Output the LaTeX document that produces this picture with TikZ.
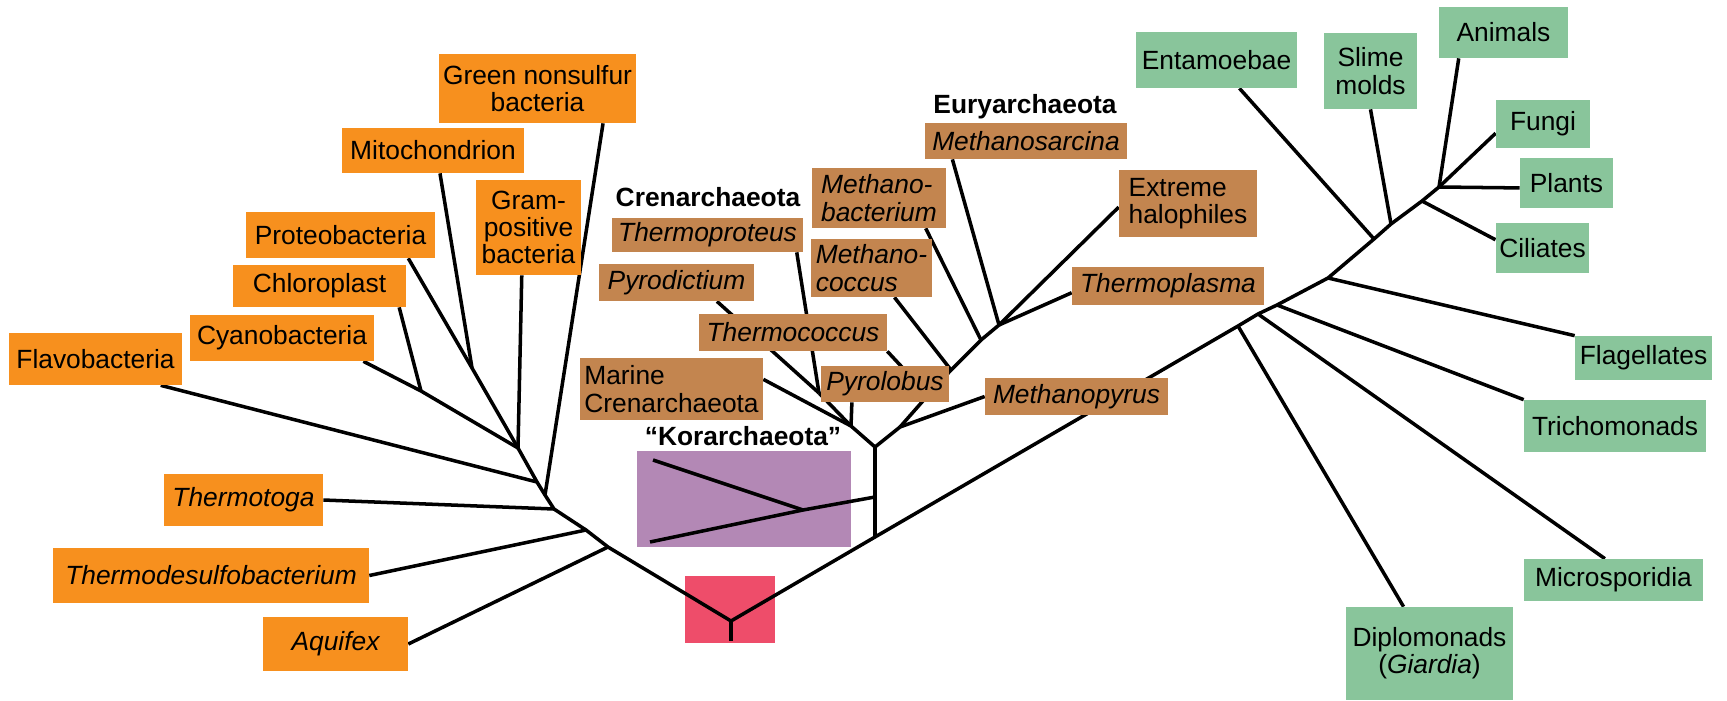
\documentclass[tikz,border=0pt]{standalone}
\usepackage{fontspec}
\setmainfont{Liberation Sans}
\usetikzlibrary{backgrounds}
\definecolor{bacorange}{HTML}{F7901E}
\definecolor{arcbrown}{HTML}{C3854F}
\definecolor{eukgreen}{HTML}{89C59B}
\definecolor{korpurple}{HTML}{B388B5}
\definecolor{rootred}{HTML}{EE4D6A}
\newcommand{\labsize}{\fontsize{15}{15.5}\selectfont}
\tikzset{
  bact/.style={fill=bacorange, inner sep=2pt, align=center, font=\labsize},
  arch/.style={fill=arcbrown, inner sep=2pt, align=center, font=\labsize},
  euka/.style={fill=eukgreen, inner sep=2pt, align=center, font=\labsize},
  itl/.style={font=\labsize\itshape},
  grp/.style={font=\labsize\bfseries, inner sep=1pt},
  br/.style={line width=2pt, line join=round},
}

\begin{document}
\begin{tikzpicture}[x=0.02cm, y=-0.02cm]
    \useasboundingbox (0,0) rectangle (1727,700);
    % bacteria
    \node[bact, minimum width=3.94cm, minimum height=1.38cm] (gns) at (537.5,88.5) {Green nonsulfur\\bacteria};
    \node[bact, minimum width=3.64cm, minimum height=0.9cm] (mito) at (433,150.5) {Mitochondrion};
    \node[bact, minimum width=2.1cm, minimum height=1.9cm] (gram) at (528.5,227.5) {Gram-\\positive\\bacteria};
    \node[bact, minimum width=3.78cm, minimum height=0.92cm] (proteo) at (340.5,235) {Proteobacteria};
    \node[bact, minimum width=3.46cm, minimum height=0.84cm] (chloro) at (319.5,286) {Chloroplast};
    \node[bact, minimum width=3.68cm, minimum height=0.92cm] (cyano) at (282,338) {Cyanobacteria};
    \node[bact, minimum width=3.46cm, minimum height=1.04cm] (flavo) at (95.5,359) {Flavobacteria};
    \node[bact, itl, minimum width=3.18cm, minimum height=1.04cm] (thtoga) at (243.5,500) {Thermotoga};
    \node[bact, itl, minimum width=6.32cm, minimum height=1.1cm] (thdesulfo) at (211,575.5) {Thermodesulfobacterium};
    \node[bact, itl, minimum width=2.9cm, minimum height=1.08cm] (aquifex) at (335.5,644) {Aquifex};
    % archaea
    \node[grp] (crenlab) at (708,197) {Crenarchaeota};
    \node[grp] (eurylab) at (1025,107) {Euryarchaeota};
    \node[grp] (korlab) at (743,436) {“Korarchaeota”};
    \node[arch, itl, minimum width=3.82cm, minimum height=0.68cm] (thproteus) at (707.5,235) {Thermoproteus};
    \node[arch, itl, minimum width=3.1cm, minimum height=0.74cm] (pyrodict) at (676.5,282.5) {Pyrodictium};
    \node[arch, itl, minimum width=3.76cm, minimum height=0.74cm] (thcoccus) at (793,332.5) {Thermococcus};
    \node[arch, align=left, minimum width=3.66cm, minimum height=1.24cm] (marine) at (671.5,389) {Marine\\Crenarchaeota};
    \node[arch, itl, minimum width=2.56cm, minimum height=0.72cm] (pyrolob) at (885,384) {Pyrolobus};
    \node[arch, itl, align=left, minimum width=2.68cm, minimum height=1.2cm] (mbact) at (879,198) {Methano-\\bacterium};
    \node[arch, itl, align=left, minimum width=2.42cm, minimum height=1.16cm] (mcocc) at (871.5,268) {Methano-\\coccus};
    \node[arch, itl, minimum width=4.04cm, minimum height=0.72cm] (msarc) at (1026,141) {Methanosarcina};
    \node[arch, align=left, minimum width=2.76cm, minimum height=1.34cm] (halo) at (1188,203.5) {Extreme\\halophiles};
    \node[arch, itl, minimum width=3.84cm, minimum height=0.76cm] (thplasma) at (1168,286) {Thermoplasma};
    \node[arch, itl, minimum width=3.66cm, minimum height=0.74cm] (mpyrus) at (1076.5,396.5) {Methanopyrus};
    % eukarya
    \node[euka, minimum width=3.22cm, minimum height=1.12cm] (entam) at (1216.5,60) {Entamoebae};
    \node[euka, minimum width=1.86cm, minimum height=1.52cm] (slime) at (1370.5,71) {Slime\\molds};
    \node[euka, minimum width=2.58cm, minimum height=1.02cm] (animals) at (1503.5,32.5) {Animals};
    \node[euka, minimum width=1.88cm, minimum height=0.96cm] (fungi) at (1543,124) {Fungi};
    \node[euka, minimum width=1.86cm, minimum height=1.0cm] (plants) at (1566.5,183) {Plants};
    \node[euka, minimum width=1.86cm, minimum height=1.0cm] (ciliates) at (1542.5,248) {Ciliates};
    \node[euka, minimum width=2.74cm, minimum height=0.88cm] (flagell) at (1643.5,358) {Flagellates};
    \node[euka, minimum width=3.64cm, minimum height=1.04cm] (tricho) at (1615,426) {Trichomonads};
    \node[euka, minimum width=3.58cm, minimum height=0.84cm] (microsp) at (1613.5,580) {Microsporidia};
    \node[euka, minimum width=3.34cm, minimum height=1.86cm] (diplo) at (1429.5,653.5) {Diplomonads\\(\textit{Giardia})};
    % junctions
    \coordinate (rj) at (731,621);
    \coordinate (rbase) at (731,641);
    \coordinate (b1) at (608,547);
    \coordinate (b2) at (586,530);
    \coordinate (b3) at (554,509);
    \coordinate (b4) at (545,495);
    \coordinate (b5) at (537,482);
    \coordinate (b6) at (518,448);
    \coordinate (pm) at (472,368);
    \coordinate (cc) at (421,391);
    \coordinate (ab) at (875,537);
    \coordinate (atop) at (875,447);
    \coordinate (ka) at (875,497);
    \coordinate (kj) at (803,510);
    \coordinate (k1) at (653,460);
    \coordinate (k2) at (650,542);
    \coordinate (cj) at (851,426);
    \coordinate (c1) at (819,393);
    \coordinate (ej) at (900,427);
    \coordinate (e1) at (922,402);
    \coordinate (e2) at (951,370);
    \coordinate (e3) at (981,340);
    \coordinate (e4) at (999,325);
    \coordinate (tcj) at (928,395);
    \coordinate (d1) at (1238,326);
    \coordinate (d2) at (1258,314);
    \coordinate (d3) at (1277,305);
    \coordinate (d4) at (1328,278);
    \coordinate (d5) at (1374,239);
    \coordinate (d6) at (1391,224);
    \coordinate (d7) at (1422,201);
    \coordinate (d8) at (1439,187);
    \begin{scope}[on background layer]
      \node[fill=korpurple, minimum width=4.29cm, minimum height=1.93cm] (korbox) at (743.8,499.2) {};
      \node[fill=rootred, minimum width=1.8cm, minimum height=1.35cm] (rootbox) at (730,609.5) {};
      % trunk
      \draw[br] (rbase) -- (rj);
      \draw[br] (b6) -- (b5) -- (b4) -- (b3) -- (b2) -- (b1) -- (rj) -- (ab)
        -- (d1) -- (d2) -- (d3) -- (d4) -- (d5) -- (d6) -- (d7) -- (d8);
      % bacteria
      \draw[br] (aquifex.east) -- (b1);
      \draw[br] (thdesulfo.east) -- (b2);
      \draw[br] (thtoga.east) -- (b3);
      \draw[br] (gns.-28) -- (b4);
      \draw[br] (flavo.-22) -- (b5);
      \draw[br] (gram.-98) -- (b6);
      \draw[br] (proteo.-19) -- (pm) -- (b6);
      \draw[br] (mito.-73) -- (pm);
      \draw[br] (cyano.-16) -- (cc) -- (b6);
      \draw[br] (chloro.-15) -- (cc);
      % archaea
      \draw[br] (ab) -- (atop);
      \draw[br] (cj) -- (atop) -- (ej);
      \draw[br] (k1) -- (kj);
      \draw[br] (ka) -- (kj) -- (k2);
      \draw[br] (marine.6) -- (cj);
      \draw[br] (pyrolob.-151) -- (cj);
      \draw[br] (c1) -- (cj);
      \draw[br] (pyrodict.-25) -- (c1);
      \draw[br] (thproteus.-11) -- (c1);
      \draw[br] (ej) -- (e1) -- (e2) -- (e3) -- (e4);
      \draw[br] (mpyrus.west) -- (ej);
      \draw[br] (thcoccus.south east) -- (tcj);
      \draw[br] (mcocc.-52) -- (e2);
      \draw[br] (mbact.-33) -- (e3);
      \draw[br] (msarc.-166) -- (e4);
      \draw[br] (halo.-177) -- (e4);
      \draw[br] (thplasma.-176) -- (e4);
      % eukarya
      \draw[br] (diplo.119) -- (d1);
      \draw[br] (microsp.112) -- (d2);
      \draw[br] (tricho.north west) -- (d3);
      \draw[br] (flagell.north west) -- (d4);
      \draw[br] (entam.-51) -- (d5);
      \draw[br] (slime.south) -- (d6);
      \draw[br] (ciliates.170) -- (d7);
      \draw[br] (animals.-150) -- (d8);
      \draw[br] (fungi.-169) -- (d8);
      \draw[br] (plants.-174) -- (d8);
    \end{scope}
\end{tikzpicture}
\end{document}
